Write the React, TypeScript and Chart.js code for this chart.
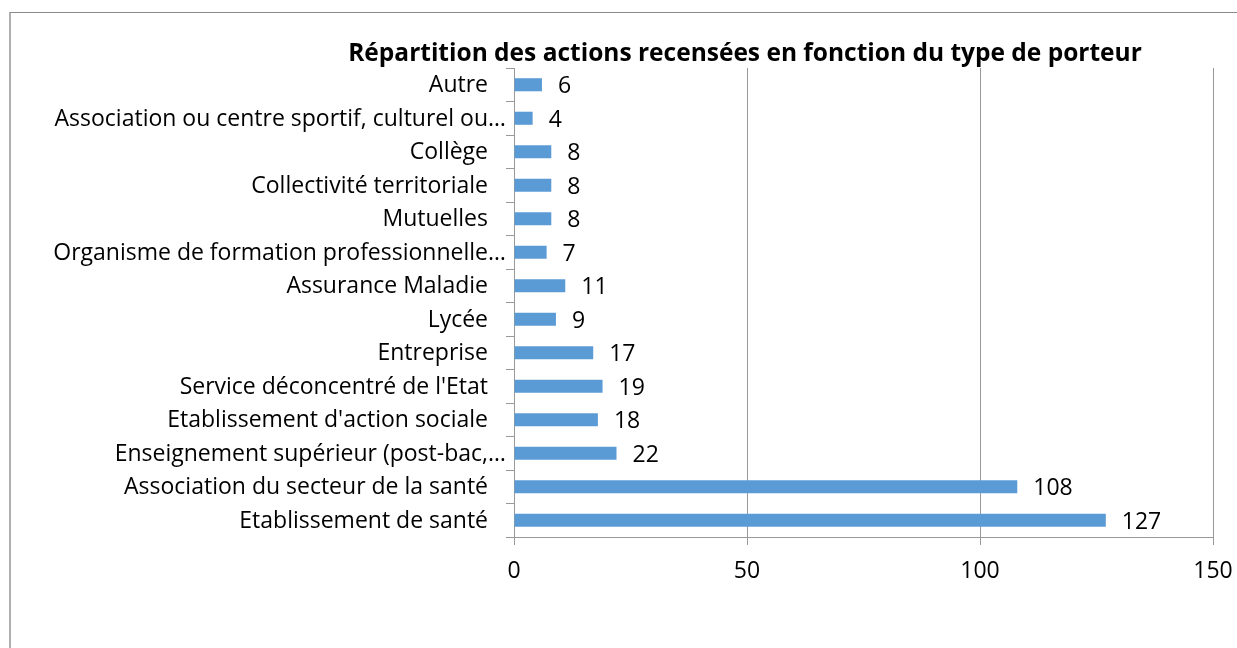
import React, { useEffect, useRef } from "react";
import { Chart, registerables } from "chart.js";

Chart.register(...registerables);

const TITLE = "Répartition des actions recensées en fonction du type de porteur";
const categories = [
  "Autre",
  "Association ou centre sportif, culturel ou…",
  "Collège",
  "Collectivité territoriale",
  "Mutuelles",
  "Organisme de formation professionnelle…",
  "Assurance Maladie",
  "Lycée",
  "Entreprise",
  "Service déconcentré de l'Etat",
  "Etablissement d'action sociale",
  "Enseignement supérieur (post-bac,…",
  "Association du secteur de la santé",
  "Etablissement de santé",
];
const values = [6, 4, 8, 8, 8, 7, 11, 9, 17, 19, 18, 22, 108, 127];
const xTicks = [0, 50, 100, 150];

const FONT = "'Open Sans'";
const SIZE = 23;

export default function App() {
  const ref = useRef<HTMLCanvasElement>(null);
  useEffect(() => {
    const canvas = ref.current!;
    const titlePlugin = {
      id: "customTitle",
      afterDraw(chart: any) {
        const ctx = chart.ctx;
        ctx.save();
        ctx.font = `bold 24.5px ${FONT}`;
        ctx.fillStyle = "#000";
        ctx.textAlign = "center";
        ctx.textBaseline = "middle";
        ctx.fillText(TITLE, 745, 54);
        ctx.restore();
      },
    };
    const yLabelPlugin = {
      id: "yLabels",
      afterDraw(chart: any) {
        const ctx = chart.ctx;
        const ys = chart.scales.y;
        ctx.save();
        ctx.font = `${SIZE}px ${FONT}`;
        ctx.fillStyle = "#000";
        ctx.textBaseline = "middle";
        categories.forEach((lab, i) => {
          const y = ys.getPixelForValue(i) + 1;
          const right = ys.right - 26;
          if (lab.endsWith("…")) {
            const base = lab.slice(0, -1);
            ctx.textAlign = "right";
            ctx.fillText(base, right, y);
            ctx.textAlign = "left";
            ctx.fillText("…", right, y);
          } else {
            ctx.textAlign = "right";
            ctx.fillText(lab, right, y);
          }
        });
        ctx.restore();
      },
    };
    const labelPlugin = {
      id: "valueLabels",
      afterDatasetsDraw(chart: any) {
        const ctx = chart.ctx;
        const meta = chart.getDatasetMeta(0);
        ctx.save();
        ctx.font = `${SIZE}px ${FONT}`;
        ctx.fillStyle = "#000";
        ctx.textAlign = "left";
        ctx.textBaseline = "middle";
        meta.data.forEach((bar: any, i: number) => {
          ctx.fillText(String(values[i]), bar.x + 16, bar.y + 2);
        });
        ctx.restore();
      },
    };
    const chart = new Chart(canvas, {
      type: "bar",
      data: {
        labels: categories,
        datasets: [
          {
            data: values,
            backgroundColor: "#5B9BD5",
            borderWidth: 0,
            barPercentage: 0.39,
            categoryPercentage: 1,
          },
        ],
      },
      options: {
        indexAxis: "y",
        animation: false,
        responsive: false,
        maintainAspectRatio: false,
        layout: { padding: { top: 68, right: 24, bottom: 0, left: 0 } },
        plugins: {
          legend: { display: false },
          title: { display: false },
          tooltip: { enabled: false },
        },
        scales: {
          x: {
            min: 0,
            max: 150,
            afterFit(scale: any) {
              scale.height = 111;
              scale.paddingRight = 0;
              scale.paddingLeft = 0;
            },
            afterBuildTicks(scale: any) {
              scale.ticks = xTicks.map((v) => ({ value: v }));
            },
            grid: {
              color: "#999",
              lineWidth: 1,
              drawOnChartArea: true,
              drawTicks: true,
              tickLength: 8,
            },
            border: { color: "#999", width: 1 },
            ticks: {
              color: "#000",
              font: { family: FONT, size: SIZE },
              padding: 13,
            },
          },
          y: {
            afterFit(scale: any) {
              scale.width = 514;
              scale.paddingTop = 0;
              scale.paddingBottom = 0;
            },
            grid: {
              offset: true,
              color: "#999",
              drawOnChartArea: false,
              drawTicks: true,
              tickLength: 8,
            },
            border: { color: "#999", width: 1 },
            ticks: {
              display: true,
              color: "rgba(0,0,0,0)",
              font: { family: FONT, size: 10 },
              autoSkip: false,
              callback: () => "",
            },
          },
        },
      },
      plugins: [titlePlugin, yLabelPlugin, labelPlugin],
    });
    return () => chart.destroy();
  }, []);

  return (
    <div style={{ position: "fixed", left: 0, top: 0, width: 1237, height: 648, background: "#fff", overflow: "hidden" }}>
      <div
        style={{
          position: "absolute",
          left: 9,
          top: 12,
          width: 1300,
          height: 700,
          borderLeft: "2px solid #b0b0b0",
          borderTop: "1px solid #8a8a8a",
        }}
      />
      <canvas ref={ref} width={1237} height={648} style={{ position: "absolute", left: 0, top: 0, width: 1237, height: 648 }} />
    </div>
  );
}
